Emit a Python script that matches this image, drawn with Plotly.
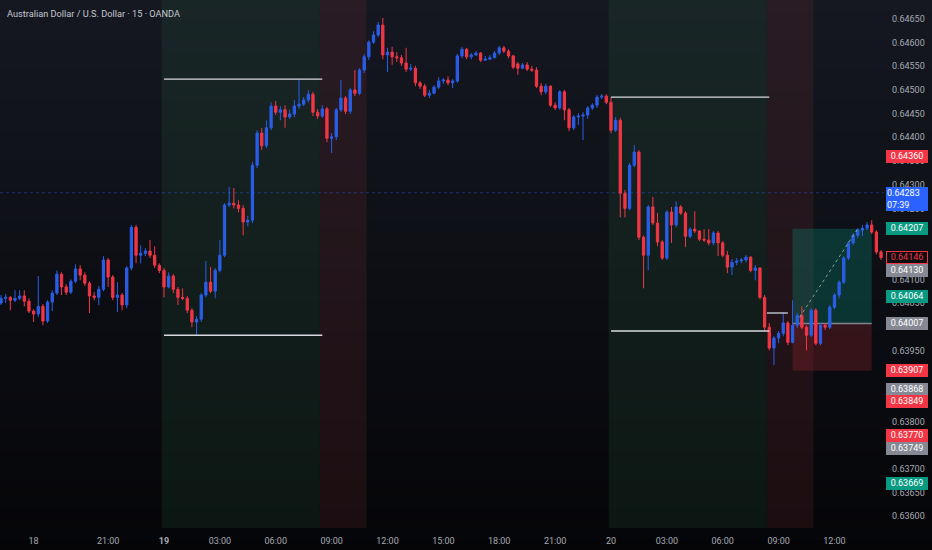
import plotly.graph_objects as go

# ---------------- data (AUD/USD, 15-minute bars) ----------------
bar_index = list(range(-7, 183))

opens = [
    0.64050, 0.64060, 0.64062, 0.64056, 0.64060, 0.64065, 0.64054, 0.64033, 0.64027, 0.64043,
    0.64012, 0.64052, 0.64071, 0.64111, 0.64084, 0.64073, 0.64096, 0.64122, 0.64109, 0.64092,
    0.64065, 0.64062, 0.64079, 0.64141, 0.64105, 0.64062, 0.64067, 0.64046, 0.64124, 0.64210,
    0.64151, 0.64155, 0.64160, 0.64151, 0.64130, 0.64119, 0.64084, 0.64107, 0.64079, 0.64062,
    0.64060, 0.64035, 0.64010, 0.64016, 0.64067, 0.64094, 0.64075, 0.64119, 0.64151, 0.64257,
    0.64261, 0.64257, 0.64250, 0.64221, 0.64225, 0.64341, 0.64409, 0.64382, 0.64420, 0.64466,
    0.64453, 0.64458, 0.64443, 0.64449, 0.64466, 0.64470, 0.64479, 0.64491, 0.64453, 0.64445,
    0.64460, 0.64398, 0.64401, 0.64458, 0.64483, 0.64455, 0.64500, 0.64493, 0.64542, 0.64570,
    0.64601, 0.64616, 0.64637, 0.64574, 0.64580, 0.64570, 0.64568, 0.64557, 0.64544, 0.64546,
    0.64515, 0.64508, 0.64489, 0.64493, 0.64506, 0.64519, 0.64521, 0.64515, 0.64519, 0.64572,
    0.64586, 0.64570, 0.64574, 0.64578, 0.64563, 0.64565, 0.64568, 0.64578, 0.64589, 0.64582,
    0.64572, 0.64555, 0.64546, 0.64553, 0.64544, 0.64542, 0.64508, 0.64496, 0.64508, 0.64468,
    0.64462, 0.64496, 0.64458, 0.64420, 0.64443, 0.64445, 0.64447, 0.64462, 0.64468, 0.64485,
    0.64487, 0.64474, 0.64415, 0.64436, 0.64282, 0.64250, 0.64341, 0.64369, 0.64189, 0.64151,
    0.64253, 0.64219, 0.64179, 0.64145, 0.64242, 0.64215, 0.64253, 0.64240, 0.64191, 0.64206,
    0.64202, 0.64185, 0.64183, 0.64177, 0.64198, 0.64177, 0.64151, 0.64126, 0.64136, 0.64139,
    0.64141, 0.64147, 0.64119, 0.64124, 0.64062, 0.63999, 0.63955, 0.63976, 0.63986, 0.64008,
    0.63967, 0.64003, 0.64024, 0.63999, 0.63982, 0.64035, 0.63965, 0.64003, 0.63999, 0.64041,
    0.64067, 0.64094, 0.64145, 0.64177, 0.64193, 0.64204, 0.64208, 0.64215, 0.64200, 0.64158,
]

highs = [
    0.64067, 0.64069, 0.64065, 0.64077, 0.64077, 0.64077, 0.64060, 0.64037, 0.64107, 0.64048,
    0.64056, 0.64077, 0.64119, 0.64115, 0.64090, 0.64100, 0.64132, 0.64130, 0.64115, 0.64096,
    0.64073, 0.64086, 0.64149, 0.64145, 0.64109, 0.64094, 0.64071, 0.64128, 0.64215, 0.64215,
    0.64172, 0.64166, 0.64183, 0.64170, 0.64134, 0.64124, 0.64115, 0.64111, 0.64084, 0.64081,
    0.64065, 0.64039, 0.64022, 0.64071, 0.64139, 0.64126, 0.64124, 0.64183, 0.64261, 0.64295,
    0.64293, 0.64267, 0.64257, 0.64234, 0.64348, 0.64415, 0.64420, 0.64436, 0.64474, 0.64477,
    0.64466, 0.64468, 0.64458, 0.64479, 0.64523, 0.64485, 0.64500, 0.64496, 0.64460, 0.64468,
    0.64464, 0.64409, 0.64462, 0.64521, 0.64487, 0.64504, 0.64542, 0.64546, 0.64576, 0.64605,
    0.64624, 0.64644, 0.64652, 0.64589, 0.64591, 0.64580, 0.64574, 0.64589, 0.64555, 0.64551,
    0.64519, 0.64513, 0.64500, 0.64510, 0.64527, 0.64525, 0.64529, 0.64523, 0.64576, 0.64591,
    0.64589, 0.64578, 0.64582, 0.64580, 0.64572, 0.64574, 0.64582, 0.64593, 0.64593, 0.64586,
    0.64574, 0.64559, 0.64557, 0.64559, 0.64551, 0.64548, 0.64515, 0.64513, 0.64510, 0.64474,
    0.64500, 0.64500, 0.64462, 0.64447, 0.64451, 0.64453, 0.64466, 0.64472, 0.64489, 0.64491,
    0.64491, 0.64485, 0.64443, 0.64441, 0.64289, 0.64346, 0.64384, 0.64373, 0.64193, 0.64257,
    0.64274, 0.64240, 0.64183, 0.64246, 0.64253, 0.64265, 0.64257, 0.64244, 0.64210, 0.64244,
    0.64204, 0.64206, 0.64206, 0.64202, 0.64202, 0.64181, 0.64160, 0.64143, 0.64145, 0.64145,
    0.64151, 0.64149, 0.64130, 0.64126, 0.64067, 0.64008, 0.63980, 0.63991, 0.64031, 0.64012,
    0.64056, 0.64029, 0.64043, 0.64003, 0.64039, 0.64039, 0.64008, 0.64008, 0.64046, 0.64071,
    0.64098, 0.64149, 0.64181, 0.64198, 0.64208, 0.64215, 0.64221, 0.64225, 0.64204, 0.64162,
]

lows = [
    0.64046, 0.64050, 0.64035, 0.64052, 0.64056, 0.64043, 0.64029, 0.64010, 0.64020, 0.64003,
    0.64008, 0.64033, 0.64067, 0.64067, 0.64067, 0.64069, 0.64092, 0.64098, 0.64086, 0.64029,
    0.64056, 0.64046, 0.64075, 0.64084, 0.64056, 0.64031, 0.64035, 0.64039, 0.64119, 0.64134,
    0.64134, 0.64149, 0.64145, 0.64124, 0.64113, 0.64062, 0.64081, 0.64071, 0.64046, 0.64056,
    0.64029, 0.63999, 0.63982, 0.64010, 0.64062, 0.64071, 0.64060, 0.64115, 0.64147, 0.64253,
    0.64250, 0.64242, 0.64193, 0.64212, 0.64219, 0.64335, 0.64373, 0.64377, 0.64415, 0.64447,
    0.64436, 0.64420, 0.64439, 0.64443, 0.64460, 0.64466, 0.64474, 0.64445, 0.64439, 0.64441,
    0.64390, 0.64367, 0.64394, 0.64453, 0.64449, 0.64449, 0.64487, 0.64489, 0.64536, 0.64563,
    0.64597, 0.64612, 0.64565, 0.64538, 0.64553, 0.64559, 0.64551, 0.64538, 0.64540, 0.64508,
    0.64502, 0.64485, 0.64483, 0.64491, 0.64502, 0.64513, 0.64510, 0.64504, 0.64515, 0.64567,
    0.64565, 0.64565, 0.64572, 0.64559, 0.64561, 0.64563, 0.64567, 0.64574, 0.64578, 0.64567,
    0.64544, 0.64532, 0.64544, 0.64540, 0.64538, 0.64504, 0.64489, 0.64491, 0.64464, 0.64458,
    0.64458, 0.64436, 0.64413, 0.64415, 0.64426, 0.64394, 0.64439, 0.64458, 0.64462, 0.64481,
    0.64470, 0.64409, 0.64411, 0.64231, 0.64231, 0.64246, 0.64337, 0.64183, 0.64081, 0.64119,
    0.64215, 0.64170, 0.64141, 0.64141, 0.64177, 0.64210, 0.64236, 0.64168, 0.64187, 0.64198,
    0.64181, 0.64179, 0.64172, 0.64172, 0.64149, 0.64147, 0.64113, 0.64109, 0.64130, 0.64134,
    0.64136, 0.64115, 0.64098, 0.64058, 0.63991, 0.63950, 0.63919, 0.63965, 0.63980, 0.63961,
    0.63965, 0.63997, 0.63995, 0.63950, 0.63978, 0.63961, 0.63961, 0.63993, 0.63995, 0.64037,
    0.64060, 0.64090, 0.64141, 0.64172, 0.64187, 0.64191, 0.64204, 0.64196, 0.64153, 0.64141,
]

closes = [
    0.64060, 0.64062, 0.64056, 0.64060, 0.64065, 0.64054, 0.64033, 0.64027, 0.64043, 0.64012,
    0.64052, 0.64071, 0.64111, 0.64084, 0.64073, 0.64096, 0.64122, 0.64109, 0.64092, 0.64065,
    0.64062, 0.64079, 0.64141, 0.64105, 0.64062, 0.64067, 0.64046, 0.64124, 0.64210, 0.64151,
    0.64155, 0.64160, 0.64151, 0.64130, 0.64119, 0.64084, 0.64107, 0.64079, 0.64062, 0.64060,
    0.64035, 0.64010, 0.64016, 0.64067, 0.64094, 0.64075, 0.64119, 0.64151, 0.64257, 0.64261,
    0.64257, 0.64250, 0.64221, 0.64225, 0.64341, 0.64409, 0.64382, 0.64420, 0.64466, 0.64453,
    0.64458, 0.64443, 0.64449, 0.64466, 0.64470, 0.64479, 0.64491, 0.64453, 0.64445, 0.64460,
    0.64398, 0.64401, 0.64458, 0.64483, 0.64455, 0.64500, 0.64493, 0.64542, 0.64570, 0.64601,
    0.64616, 0.64637, 0.64574, 0.64580, 0.64570, 0.64568, 0.64557, 0.64544, 0.64546, 0.64515,
    0.64508, 0.64489, 0.64493, 0.64506, 0.64519, 0.64521, 0.64515, 0.64519, 0.64572, 0.64586,
    0.64570, 0.64574, 0.64578, 0.64563, 0.64565, 0.64568, 0.64578, 0.64589, 0.64582, 0.64572,
    0.64548, 0.64546, 0.64553, 0.64544, 0.64542, 0.64508, 0.64496, 0.64508, 0.64468, 0.64462,
    0.64496, 0.64458, 0.64420, 0.64443, 0.64445, 0.64447, 0.64462, 0.64468, 0.64485, 0.64487,
    0.64474, 0.64415, 0.64436, 0.64282, 0.64250, 0.64341, 0.64369, 0.64189, 0.64151, 0.64253,
    0.64219, 0.64179, 0.64145, 0.64242, 0.64215, 0.64253, 0.64240, 0.64191, 0.64206, 0.64202,
    0.64185, 0.64183, 0.64177, 0.64198, 0.64177, 0.64151, 0.64126, 0.64136, 0.64139, 0.64141,
    0.64147, 0.64119, 0.64124, 0.64062, 0.63999, 0.63955, 0.63976, 0.63986, 0.64008, 0.63967,
    0.64003, 0.64024, 0.63999, 0.63982, 0.64035, 0.63965, 0.64003, 0.63999, 0.64041, 0.64067,
    0.64094, 0.64145, 0.64177, 0.64193, 0.64204, 0.64208, 0.64215, 0.64200, 0.64158, 0.64146,
]

time_tick_pos = [0, 16, 28, 40, 52, 64, 76, 88, 100, 112, 124, 136, 148, 160, 172]
time_tick_text = ["18", "21:00", "<b>19</b>", "03:00", "06:00", "09:00", "12:00", "15:00",
                  "18:00", "21:00", "20", "03:00", "06:00", "09:00", "12:00"]

price_ticks = [0.63600, 0.63650, 0.63700, 0.63750, 0.63800, 0.63850, 0.63900, 0.63950,
               0.64000, 0.64050, 0.64100, 0.64150, 0.64200, 0.64250, 0.64300, 0.64350,
               0.64400, 0.64450, 0.64500, 0.64550, 0.64600, 0.64650]

# sessions (bar units)
session_green_start = [27.5, 123.5]
session_red_start = [61.5, 157.5]
session_red_end = [71.5, 167.5]
# session high / low lines
range_start = [28, 124]
range_end = [62, 158]
range_high = [0.64523, 0.64485]
range_low = [0.63982, 0.63991]

# long position tool
pos_start, pos_end = 163, 180
pos_entry, pos_target, pos_stop = 0.64007, 0.64207, 0.63907
path_start_bar, path_start_price = 164.5, 0.64020
path_end_bar, path_end_price = 177, 0.64207
small_level_start, small_level_end, small_level_price = 157.5, 162, 0.64029

current_line_price = 0.64283

# right-scale labels: (price, text, background, text colour, border)
RED, GREEN, GRAY, BLUE = "#f23645", "#089981", "#868993", "#2962ff"
scale_labels = [
    (0.64360, "0.64360", RED, "#ffffff", None),
    (0.64207, "0.64207", GREEN, "#ffffff", None),
    (0.64146, "0.64146", "#0c0d11", RED, RED),
    (0.64130, "0.64130", GRAY, "#ffffff", None),
    (0.64064, "0.64064", GREEN, "#ffffff", None),
    (0.64007, "0.64007", GRAY, "#ffffff", None),
    (0.63907, "0.63907", RED, "#ffffff", None),
    (0.63868, "0.63868", GRAY, "#ffffff", None),
    (0.63849, "0.63849", RED, "#ffffff", None),
    (0.63770, "0.63770", RED, "#ffffff", None),
    (0.63749, "0.63749", GRAY, "#ffffff", None),
    (0.63669, "0.63669", GREEN, "#ffffff", None),
]
current_label_text = "0.64283<br>07:39"

title_text = "Australian Dollar / U.S. Dollar · 15 · OANDA"

# ---------------- figure ----------------
W, H = 932, 550
ML, MR, MT, MB = 0, 48, 0, 22
PLOT_H = H - MT - MB
Y_MIN, Y_MAX = 0.63575, 0.64690
X_MIN, X_MAX = -7.22, 182.64
PX_PER_PRICE = PLOT_H / (Y_MAX - Y_MIN)
LABEL_H_PX = 12.5

fig = go.Figure()

fig.add_trace(go.Candlestick(
    x=bar_index, open=opens, high=highs, low=lows, close=closes,
    increasing=dict(line=dict(color="#2a5ee8", width=1), fillcolor="#2a5ee8"),
    decreasing=dict(line=dict(color="#f23645", width=1), fillcolor="#f23645"),
    whiskerwidth=0, hoverinfo="skip", showlegend=False,
))

shapes = []
# vertical gradient background (style only)
top_rgb = (21, 24, 33)
bot_rgb = (5, 5, 8)
n_bands = 55
for k in range(n_bands):
    t = (k + 0.5) / n_bands
    r = round(top_rgb[0] + (bot_rgb[0] - top_rgb[0]) * t)
    g = round(top_rgb[1] + (bot_rgb[1] - top_rgb[1]) * t)
    b = round(top_rgb[2] + (bot_rgb[2] - top_rgb[2]) * t)
    py0 = k * H / n_bands
    py1 = (k + 1) * H / n_bands + 1
    shapes.append(dict(type="rect", xref="paper", yref="paper",
                       x0=-0.01, x1=1.07,
                       y0=(PLOT_H - py1) / PLOT_H, y1=(PLOT_H - py0) / PLOT_H,
                       fillcolor=f"rgb({r},{g},{b})", line=dict(width=0), layer="below"))

# session shading
for gs, rs, re in zip(session_green_start, session_red_start, session_red_end):
    shapes.append(dict(type="rect", xref="x", yref="paper", x0=gs, x1=rs, y0=0, y1=1,
                       fillcolor="rgba(40,100,62,0.19)", line=dict(width=0), layer="below"))
    shapes.append(dict(type="rect", xref="x", yref="paper", x0=rs, x1=re, y0=0, y1=1,
                       fillcolor="rgba(130,50,55,0.19)", line=dict(width=0), layer="below"))

# position tool
shapes.append(dict(type="rect", xref="x", yref="y", x0=pos_start, x1=pos_end,
                   y0=pos_entry, y1=pos_target, fillcolor="rgba(8,153,129,0.28)",
                   line=dict(width=0), layer="below"))
shapes.append(dict(type="rect", xref="x", yref="y", x0=pos_start, x1=pos_end,
                   y0=pos_stop, y1=pos_entry, fillcolor="rgba(242,54,69,0.18)",
                   line=dict(width=0), layer="below"))
shapes.append(dict(type="line", xref="x", yref="y", x0=pos_start, x1=pos_end,
                   y0=pos_entry, y1=pos_entry, line=dict(color="#80838d", width=1.5), layer="below"))
shapes.append(dict(type="line", xref="x", yref="y", x0=path_start_bar, x1=path_end_bar,
                   y0=path_start_price, y1=path_end_price,
                   line=dict(color="rgba(140,210,170,0.75)", width=1, dash="dot"), layer="above"))
shapes.append(dict(type="line", xref="x", yref="y", x0=small_level_start, x1=small_level_end,
                   y0=small_level_price, y1=small_level_price,
                   line=dict(color="#b8bbc4", width=1.5), layer="above"))

# current price dotted line
shapes.append(dict(type="line", xref="paper", yref="y", x0=0, x1=1,
                   y0=current_line_price, y1=current_line_price,
                   line=dict(color="rgba(41,98,255,0.4)", width=1, dash="dot"), layer="below"))

# session range lines
for s, e, hi, lo in zip(range_start, range_end, range_high, range_low):
    for lvl in (hi, lo):
        shapes.append(dict(type="line", xref="x", yref="y", x0=s, x1=e, y0=lvl, y1=lvl,
                           line=dict(color="#d6d8de", width=1.3), layer="above"))

annotations = []
annotations.append(dict(text=title_text, xref="paper", yref="paper",
                        x=5 / (W - ML - MR), y=(PLOT_H - 13) / PLOT_H,
                        xanchor="left", yanchor="middle", showarrow=False,
                        font=dict(family="Roboto", size=9.2, color="#c5c8d0")))

# stack the scale labels so that they do not overlap (like the price scale does)
last_px = -1e9
for price, txt, bg, fc, border in sorted(scale_labels, key=lambda r: -r[0]):
    true_px = (Y_MAX - price) * PX_PER_PRICE
    shift = max(0.0, last_px + LABEL_H_PX - true_px)
    last_px = true_px + shift
    annotations.append(dict(text=txt, xref="paper", yref="y", x=1, y=price,
                            xanchor="left", yanchor="middle", xshift=2, yshift=-shift,
                            showarrow=False,
                            bgcolor=bg, bordercolor=border if border else bg,
                            borderwidth=1, borderpad=0, width=40, height=10.5,
                            align="center",
                            font=dict(family="Roboto", size=9, color=fc)))

annotations.append(dict(text=current_label_text, xref="paper", yref="y", x=1,
                        y=current_line_price, xanchor="left", yanchor="top", xshift=2, yshift=6,
                        showarrow=False, bgcolor=BLUE, bordercolor=BLUE, borderwidth=1,
                        borderpad=0, width=40, height=22, align="left",
                        font=dict(family="Roboto", size=9, color="#ffffff")))

fig.update_layout(
    width=W, height=H,
    margin=dict(l=ML, r=MR, t=MT, b=MB, autoexpand=False),
    paper_bgcolor="#050508", plot_bgcolor="rgba(0,0,0,0)",
    showlegend=False, shapes=shapes, annotations=annotations,
    xaxis=dict(range=[X_MIN, X_MAX], rangeslider=dict(visible=False),
               showgrid=False, zeroline=False, showline=False, ticks="",
               tickmode="array", tickvals=time_tick_pos, ticktext=time_tick_text,
               tickfont=dict(family="Roboto", size=9, color="#a6a9b2"),
               ticklabelstandoff=6, fixedrange=True),
    yaxis=dict(range=[Y_MIN, Y_MAX], side="right",
               showgrid=False, zeroline=False, showline=False, ticks="",
               tickmode="array", tickvals=price_ticks,
               ticktext=[f"{p:.5f}" for p in price_ticks],
               tickfont=dict(family="Roboto", size=9, color="#a6a9b2"),
               ticklabelstandoff=7, fixedrange=True),
    font=dict(family="Roboto"),
)

fig.write_html("out.html", config={"displayModeBar": False},
               post_script="document.body.style.margin='0';document.body.style.background='#050508';")
